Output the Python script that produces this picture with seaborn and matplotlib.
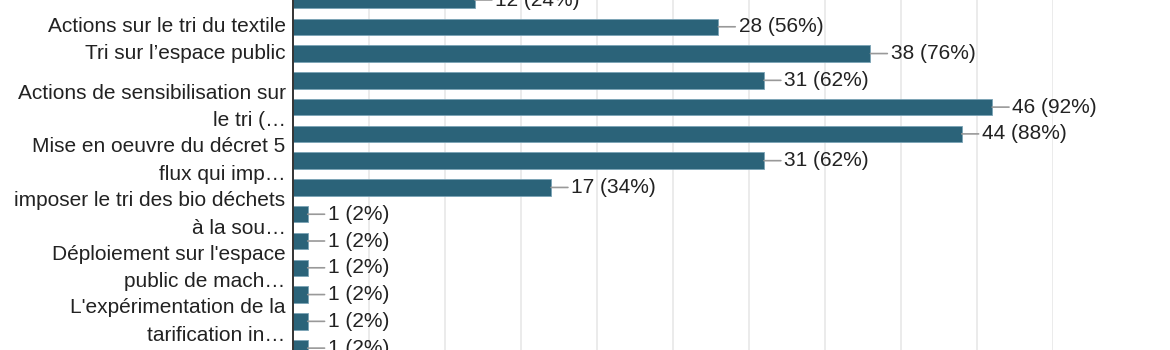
import matplotlib
matplotlib.use("Agg")
import matplotlib.pyplot as plt
import seaborn as sns
import pandas as pd

# Data (chart is cropped: first and last bars are partially visible)
categories = [
    "Catégorie 1 (libellé masqué)",
    "Actions sur le tri du textile",
    "Tri sur l’espace public",
    "Catégorie 4 (libellé masqué)",
    "Actions de sensibilisation sur le tri (…",
    "Catégorie 6 (libellé masqué)",
    "Mise en oeuvre du décret 5 flux qui imp…",
    "Catégorie 8 (libellé masqué)",
    "imposer le tri des bio déchets à la sou…",
    "Catégorie 10 (libellé masqué)",
    "Déploiement sur l'espace public de mach…",
    "Catégorie 12 (libellé masqué)",
    "L'expérimentation de la tarification in…",
    "Catégorie 14 (libellé masqué)",
]
tick_labels = [
    "",
    "Actions sur le tri du textile",
    "Tri sur l’espace public",
    "",
    "Actions de sensibilisation sur\nle tri (…",
    "",
    "Mise en oeuvre du décret 5\nflux qui imp…",
    "",
    "imposer le tri des bio déchets\nà la sou…",
    "",
    "Déploiement sur l'espace\npublic de mach…",
    "",
    "L'expérimentation de la\ntarification in…",
    "",
]
counts = [12, 28, 38, 31, 46, 44, 31, 17, 1, 1, 1, 1, 1, 1]
percents = [24, 56, 76, 62, 92, 88, 62, 34, 2, 2, 2, 2, 2, 2]
x_ticks = [0, 5, 10, 15, 20, 25, 30, 35, 40, 45, 50]

df = pd.DataFrame({"categorie": categories, "reponses": counts})

sns.set_theme(style="white")
plt.rcParams["font.family"] = ["Liberation Sans", "DejaVu Sans"]

W, H = 1170, 350
fig = plt.figure(figsize=(W / 100, H / 100), dpi=100)
ax = fig.add_axes([292.5 / W, 0, (1053 - 292.5) / W, 1])

bar_color = "#2b6379"
sns.barplot(data=df, y="categorie", x="reponses", order=categories,
            orient="h", color=bar_color, saturation=1, width=0.615,
            edgecolor="#7aa3b6", linewidth=0.6, ax=ax)

ax.set_xlim(0, 50)
ax.set_ylim(13.07, 0.131)
ax.set_xticks(x_ticks)
ax.xaxis.grid(True, color="#ebebeb", linewidth=1.4)
ax.set_axisbelow(True)
ax.tick_params(axis="x", labelbottom=False, length=0)
ax.tick_params(axis="y", length=0, pad=5)
ax.set_yticks(range(len(categories)))
ax.set_yticklabels(tick_labels, fontsize=15, color="#222222",
                   linespacing=1.57, multialignment="right")
for lab in ax.get_yticklabels():
    lab.set_verticalalignment("center")
ax.set_xlabel("")
ax.set_ylabel("")
for s in ["top", "right", "bottom"]:
    ax.spines[s].set_visible(False)
ax.spines["left"].set_color("#333333")
ax.spines["left"].set_linewidth(1.4)

for i, (c, p) in enumerate(zip(counts, percents)):
    ax.annotate(f"{c} ({p}%)", xy=(c, i), xytext=(14.5, 0),
                textcoords="offset points", va="center", ha="left",
                fontsize=15, color="#222222",
                arrowprops=dict(arrowstyle="-", color="#999999", lw=1.2,
                                shrinkA=0, shrinkB=0),
                annotation_clip=False)

fig.savefig("out.png", dpi=100)
